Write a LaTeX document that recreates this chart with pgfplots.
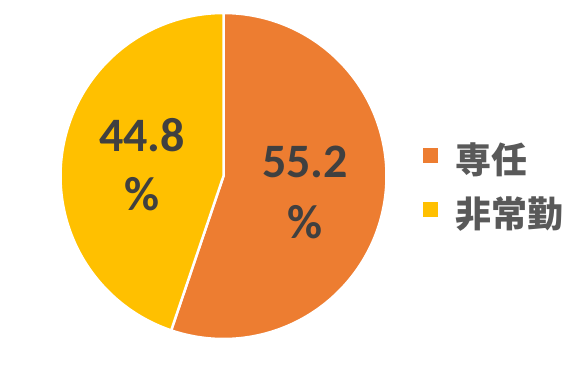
\documentclass[border=0pt]{standalone}
\usepackage{pgfplots}
\pgfplotsset{compat=1.18}
\usepackage{fontspec}
\setmainfont{Carlito}
\newfontfamily\cjk{Noto Sans CJK JP}
\definecolor{orangeC}{HTML}{ED7D31}
\definecolor{yellowC}{HTML}{FFC000}
\definecolor{labC}{HTML}{404040}
\definecolor{legC}{HTML}{595959}
\def\valA{55.2}
\def\valB{44.8}
\pgfmathsetmacro\endA{90-3.6*\valA}
\pgfmathsetmacro\endB{\endA-3.6*\valB}
\begin{document}
\begin{tikzpicture}
\useasboundingbox (0,0) rectangle (570pt,370pt);
\begin{axis}[
  at={(60.5pt,31pt)}, anchor=south west,
  scale only axis, width=326pt, height=326pt,
  xmin=-1, xmax=1, ymin=-1, ymax=1,
  hide axis, clip=false,
  legend style={at={(1,0.5)}, anchor=west, xshift=34pt, yshift=-10pt, draw=none, fill=none,
    inner sep=0pt, font=\cjk\bfseries\fontsize{36}{40}\selectfont, text=legC,
    row sep=18pt, /tikz/every even column/.append style={column sep=0pt}},
  legend cell align=left,
  legend image code/.code={\fill[#1] (0pt,-5pt) rectangle (17pt,12pt); \path (17pt,0) -- (30pt,0);},
]
\addplot[fill=orangeC, draw=white, line width=2.5pt, line join=round, domain=90:\endA, samples=200, variable=\t]
  ({cos(\t)},{sin(\t)}) -- (axis cs:0,0) -- cycle;
\addlegendentry{専任}
\addplot[fill=yellowC, draw=white, line width=2.5pt, line join=round, domain=\endA:\endB, samples=200, variable=\t]
  ({cos(\t)},{sin(\t)}) -- (axis cs:0,0) -- cycle;
\addlegendentry{非常勤}
\node[font=\bfseries\fontsize{48}{50}\selectfont, text=labC] at (axis cs:0.5,0.086) {55.2};
\node[font=\bfseries\fontsize{48}{50}\selectfont, text=labC] at (axis cs:0.5,-0.282) {\%};
\node[font=\bfseries\fontsize{48}{50}\selectfont, text=labC] at (axis cs:-0.5,0.252) {44.8};
\node[font=\bfseries\fontsize{48}{50}\selectfont, text=labC] at (axis cs:-0.5,-0.110) {\%};
\end{axis}
\end{tikzpicture}
\end{document}
